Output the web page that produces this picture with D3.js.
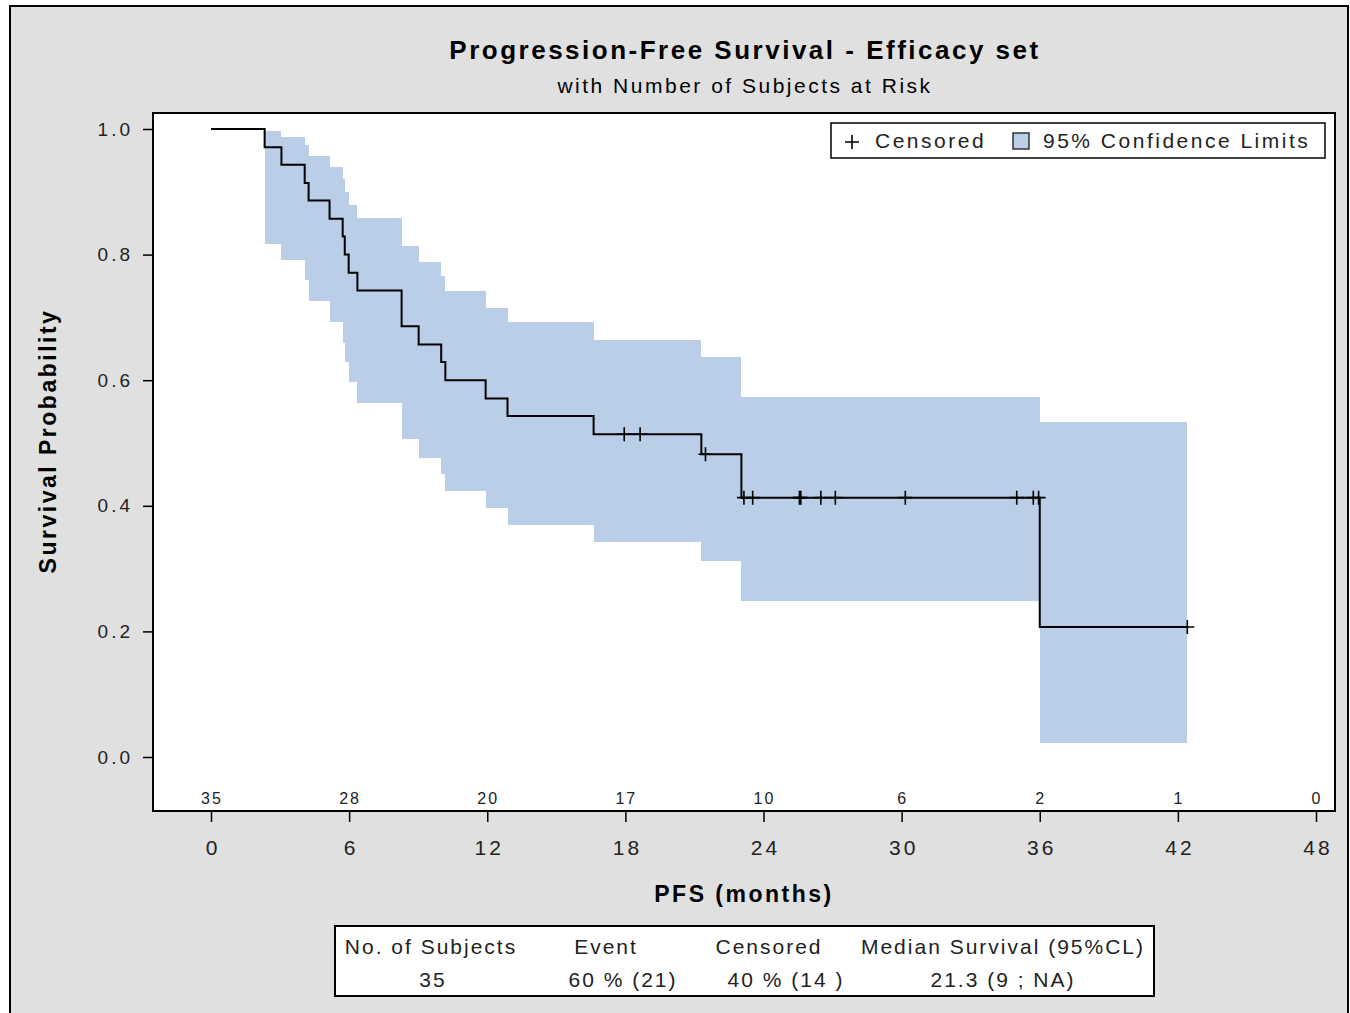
<!DOCTYPE html>
<html>
<head>
<meta charset="utf-8">
<script src="https://cdn.jsdelivr.net/npm/d3@7"></script>
<style>
  body { margin: 0; background: #fff; }
  svg text { font-family: "Liberation Sans", Arial, sans-serif; letter-spacing: 2.5px; }
</style>
</head>
<body>
<div id="chart"></div>
<script>
// Kaplan-Meier steps (time in months, survival after the step)
var stepTime = [0, 2.33, 3.06, 4.07, 4.24, 5.15, 5.72, 5.81, 5.98, 6.36, 8.28, 9.02, 10.0, 10.18, 11.93, 12.88, 16.62, 21.3, 23.04, 36.0];
var survival = [1.0, 0.971, 0.943, 0.914, 0.886, 0.857, 0.829, 0.800, 0.771, 0.743, 0.686, 0.657, 0.629, 0.600, 0.571, 0.543, 0.514, 0.482, 0.413, 0.207];
var upperCL  = [null, 0.997, 0.988, 0.974, 0.957, 0.940, 0.920, 0.900, 0.879, 0.859, 0.813, 0.788, 0.766, 0.742, 0.715, 0.692, 0.664, 0.637, 0.574, 0.533];
var lowerCL  = [null, 0.817, 0.792, 0.759, 0.726, 0.692, 0.659, 0.629, 0.597, 0.564, 0.507, 0.476, 0.451, 0.424, 0.397, 0.369, 0.342, 0.312, 0.248, 0.023];
var lastTime = 42.41;

var censorTimes = [17.95, 18.64, 21.48, 23.15, 23.53, 25.56, 25.62, 26.49, 27.12, 30.16, 35.0, 35.72, 35.95, 42.41];

var xTicks = [0, 6, 12, 18, 24, 30, 36, 42, 48];
var atRisk = [35, 28, 20, 17, 10, 6, 2, 1, 0];
var yTicks = [0, 0.2, 0.4, 0.6, 0.8, 1.0];

var tableHeaders = ["No. of Subjects", "Event", "Censored", "Median Survival (95%CL)"];
var tableValues = ["35", "60 % (21)", "40 % (14 )", "21.3 (9 ; NA)"];

var W = 1350, H = 1013;
var frame = { left: 153, top: 113, right: 1335, bottom: 811 };
var bandColor = "#bacfe7";

var svg = d3.select("#chart").append("svg")
  .attr("width", W)
  .attr("height", H);

// outer graph frame
svg.append("rect")
  .attr("x", 10).attr("y", 6)
  .attr("width", 1338).attr("height", 1030)
  .attr("fill", "#e0e0e0")
  .attr("stroke", "#000")
  .attr("stroke-width", 2);

var x = d3.scaleLinear().domain([0, 48]).range([211, 1316]);
var y = d3.scaleLinear().domain([0, 1]).range([757, 129]);

// plot area
svg.append("rect")
  .attr("x", frame.left).attr("y", frame.top)
  .attr("width", frame.right - frame.left)
  .attr("height", frame.bottom - frame.top)
  .attr("fill", "#fff");

// step data with closing point at last follow-up
var steps = stepTime.map((t, i) => ({ t: t, s: survival[i], lo: lowerCL[i], hi: upperCL[i] }));
steps.push({ t: lastTime, s: survival[survival.length - 1], lo: lowerCL[lowerCL.length - 1], hi: upperCL[upperCL.length - 1] });

var band = d3.area()
  .defined(d => d.hi != null)
  .curve(d3.curveStepAfter)
  .x(d => x(d.t))
  .y0(d => y(d.lo))
  .y1(d => y(d.hi));

svg.append("path")
  .datum(steps)
  .attr("d", band)
  .attr("fill", bandColor)
  .attr("shape-rendering", "crispEdges");

var line = d3.line()
  .curve(d3.curveStepAfter)
  .x(d => x(d.t))
  .y(d => y(d.s));

svg.append("path")
  .datum(steps)
  .attr("d", line)
  .attr("fill", "none")
  .attr("stroke", "#000")
  .attr("stroke-width", 2);

// censored marks sit on the curve
function survivalAt(t) {
  var i = d3.bisectRight(stepTime, t) - 1;
  return survival[Math.max(i, 0)];
}

svg.append("g").selectAll("path")
  .data(censorTimes)
  .join("path")
    .attr("transform", d => `translate(${x(d)},${y(survivalAt(d))})`)
    .attr("d", "M-7,0H7M0,-7V7")
    .attr("stroke", "#000")
    .attr("stroke-width", 1.6)
    .attr("fill", "none");

// number at risk inside the plot
svg.append("g").selectAll("text")
  .data(atRisk)
  .join("text")
    .attr("x", (d, i) => x(xTicks[i]) + 1)
    .attr("y", 804)
    .attr("text-anchor", "middle")
    .attr("font-size", 16)
    .attr("fill", "#222")
    .style("letter-spacing", "2px")
    .text(d => d);

// plot frame
svg.append("rect")
  .attr("x", frame.left).attr("y", frame.top)
  .attr("width", frame.right - frame.left)
  .attr("height", frame.bottom - frame.top)
  .attr("fill", "none")
  .attr("stroke", "#000")
  .attr("stroke-width", 2);

// axes
var yAxis = svg.append("g")
  .attr("transform", `translate(${frame.left - 1},0)`)
  .call(d3.axisLeft(y).tickValues(yTicks).tickFormat(d3.format(".1f")).tickSize(9).tickSizeOuter(0).tickPadding(10));
yAxis.select(".domain").remove();
yAxis.selectAll("text").attr("font-size", 19).attr("fill", "#222").attr("font-family", null).style("letter-spacing", "3px");
yAxis.selectAll("line").attr("stroke", "#000").attr("stroke-width", 1.5);

var xAxis = svg.append("g")
  .attr("transform", `translate(0,${frame.bottom + 1})`)
  .call(d3.axisBottom(x).tickValues(xTicks).tickSize(10).tickSizeOuter(0).tickPadding(18));
xAxis.select(".domain").remove();
xAxis.selectAll("text").attr("font-size", 21).attr("fill", "#222").attr("font-family", null)
  .style("letter-spacing", "3px").attr("dx", "1.5px");
xAxis.selectAll("line").attr("stroke", "#000").attr("stroke-width", 1.5);

// titles
svg.append("text")
  .attr("x", 745).attr("y", 59)
  .attr("text-anchor", "middle")
  .attr("font-size", 26).attr("font-weight", "bold")
  .text("Progression-Free Survival - Efficacy set");

svg.append("text")
  .attr("x", 745).attr("y", 93)
  .attr("text-anchor", "middle")
  .attr("font-size", 21)
  .text("with Number of Subjects at Risk");

svg.append("text")
  .attr("x", 744).attr("y", 902)
  .attr("text-anchor", "middle")
  .attr("font-size", 23).attr("font-weight", "bold")
  .text("PFS (months)");

svg.append("text")
  .attr("transform", "translate(56,441) rotate(-90)")
  .attr("text-anchor", "middle")
  .attr("font-size", 23).attr("font-weight", "bold")
  .text("Survival Probability");

// legend
var legend = svg.append("g");
legend.append("rect")
  .attr("x", 831).attr("y", 123)
  .attr("width", 494).attr("height", 35)
  .attr("fill", "#fff")
  .attr("stroke", "#000")
  .attr("stroke-width", 1.5);
legend.append("path")
  .attr("transform", "translate(852,142)")
  .attr("d", "M-7,0H7M0,-7V7")
  .attr("stroke", "#000")
  .attr("stroke-width", 1.6);
legend.append("text")
  .attr("x", 875).attr("y", 148)
  .attr("font-size", 21).attr("fill", "#222")
  .text("Censored");
legend.append("rect")
  .attr("x", 1013).attr("y", 133)
  .attr("width", 16).attr("height", 16)
  .attr("fill", bandColor)
  .attr("stroke", "#333")
  .attr("stroke-width", 1.5);
legend.append("text")
  .attr("x", 1043).attr("y", 148)
  .attr("font-size", 21).attr("fill", "#222")
  .text("95% Confidence Limits");

// summary table
var table = svg.append("g");
table.append("rect")
  .attr("x", 335).attr("y", 926)
  .attr("width", 819).attr("height", 70)
  .attr("fill", "#fff")
  .attr("stroke", "#000")
  .attr("stroke-width", 2);

var headerX = [431, 606, 769, 1003];
var valueX = [433, 623, 786, 1003];

table.selectAll("text.head")
  .data(tableHeaders)
  .join("text")
    .attr("class", "head")
    .attr("x", (d, i) => headerX[i])
    .attr("y", 954)
    .attr("text-anchor", "middle")
    .attr("font-size", 21).attr("fill", "#222")
    .style("letter-spacing", "2px")
    .text(d => d);

table.selectAll("text.val")
  .data(tableValues)
  .join("text")
    .attr("class", "val")
    .attr("x", (d, i) => valueX[i])
    .attr("y", 987)
    .attr("text-anchor", "middle")
    .attr("font-size", 21).attr("fill", "#222")
    .style("letter-spacing", "2px")
    .text(d => d);
</script>
</body>
</html>
